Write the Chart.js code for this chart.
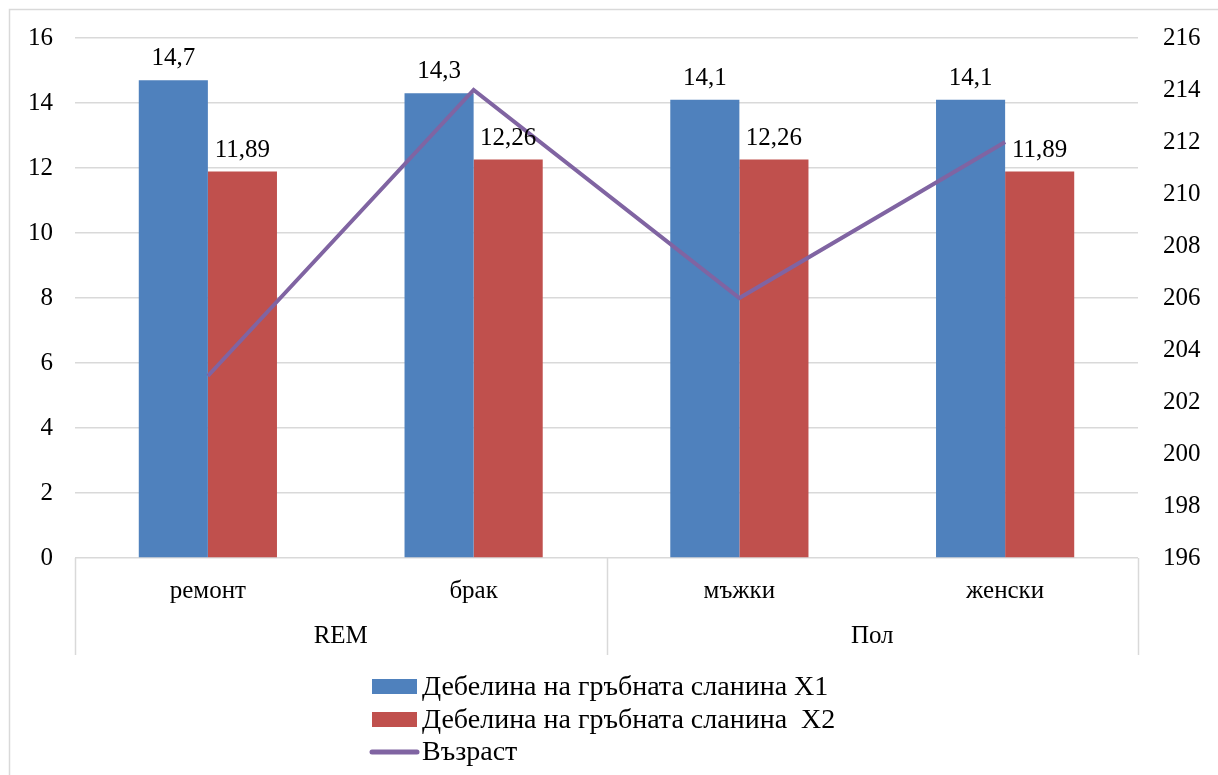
<!DOCTYPE html>
<html>
<head>
<meta charset="utf-8">
<script src="https://cdn.jsdelivr.net/npm/chart.js@4.4.0/dist/chart.umd.min.js"></script>
<style>
    html, body { margin: 0; padding: 0; background: #fff; }
    #wrap { width: 1218px; height: 775px; }
</style>
</head>
<body>
<div id="wrap"><canvas id="chart" width="1218" height="775"></canvas></div>
<script>
const categories = ['ремонт', 'брак', 'мъжки', 'женски'];
const groups = ['REM', 'Пол'];
const groupSizes = [2, 2];
const seriesX1 = [14.7, 14.3, 14.1, 14.1];
const seriesX2 = [11.89, 12.26, 12.26, 11.89];
const ageValues = [203, 214, 206, 212];
const seriesNames = ['Дебелина на гръбната сланина X1', 'Дебелина на гръбната сланина  X2', 'Възраст'];
const colors = ['#4F81BD', '#C0504D', '#8064A2'];

const FONT = '"Liberation Serif", "Times New Roman", serif';
const GRID = '#d9d9d9';
const SIZE = 25;

const fmt = v => String(v).replace('.', ',');

// frame, data labels, group labels, legend
const extras = {
    id: 'extras',
    beforeDraw(chart) {
        const ctx = chart.ctx;
        ctx.save();
        ctx.strokeStyle = GRID;
        ctx.lineWidth = 1.5;
        ctx.strokeRect(9.5, 9.5, 1400, 1000);
        ctx.restore();
    },
    afterDatasetsDraw(chart) {
        const ctx = chart.ctx;
        ctx.save();
        ctx.font = SIZE + 'px ' + FONT;
        ctx.fillStyle = '#000';
        ctx.textAlign = 'center';
        ctx.textBaseline = 'alphabetic';
        [0, 1].forEach(i => {
            const meta = chart.getDatasetMeta(i);
            meta.data.forEach((el, j) => {
                ctx.fillText(fmt(chart.data.datasets[i].data[j]), el.x, el.y - 15);
            });
        });
        ctx.restore();
    },
    afterDraw(chart) {
        const ctx = chart.ctx;
        const x = chart.scales.x;
        const area = chart.chartArea;
        const half = (x.getPixelForValue(1) - x.getPixelForValue(0)) / 2;
        const bottom = area.bottom + 97;

        ctx.save();
        ctx.strokeStyle = GRID;
        ctx.lineWidth = 1.5;
        ctx.font = SIZE + 'px ' + FONT;
        ctx.fillStyle = '#000';
        ctx.textAlign = 'center';
        ctx.textBaseline = 'middle';
        let start = 0;
        const edges = [x.getPixelForValue(0) - half];
        groups.forEach((g, i) => {
            const end = start + groupSizes[i] - 1;
            const left = x.getPixelForValue(start) - half;
            const right = x.getPixelForValue(end) + half;
            edges.push(right);
            ctx.fillText(g, (left + right) / 2, area.bottom + 78);
            start = end + 1;
        });
        edges.forEach(e => {
            ctx.beginPath();
            ctx.moveTo(Math.round(e) + 0.5, area.bottom);
            ctx.lineTo(Math.round(e) + 0.5, bottom);
            ctx.stroke();
        });

        // legend, stacked and left aligned
        const lx = 372, rows = [687, 720, 752];
        ctx.font = '28px ' + FONT;
        ctx.textAlign = 'left';
        chart.data.datasets.forEach((ds, i) => {
            const y = rows[i];
            if (ds.type === 'line') {
                ctx.strokeStyle = ds.borderColor;
                ctx.lineWidth = 5;
                ctx.lineCap = 'round';
                ctx.beginPath();
                ctx.moveTo(lx, y);
                ctx.lineTo(lx + 45, y);
                ctx.stroke();
            } else {
                ctx.fillStyle = ds.backgroundColor;
                ctx.fillRect(lx, y - 8, 45, 15);
            }
            ctx.fillStyle = '#000';
            ctx.fillText(ds.label, lx + 50, y + 1);
        });
        ctx.restore();
    }
};

function fixY(width) {
    return scale => {
        scale.width = width;
        scale.paddingTop = 0;
        scale.paddingBottom = 0;
    };
}

new Chart(document.getElementById('chart'), {
    data: {
        labels: categories,
        datasets: [
            {
                type: 'bar',
                label: seriesNames[0],
                data: seriesX1,
                backgroundColor: colors[0],
                yAxisID: 'y',
                order: 1
            },
            {
                type: 'bar',
                label: seriesNames[1],
                data: seriesX2,
                backgroundColor: colors[1],
                yAxisID: 'y',
                order: 1
            },
            {
                type: 'line',
                label: seriesNames[2],
                data: ageValues,
                borderColor: colors[2],
                backgroundColor: colors[2],
                borderWidth: 4,
                pointRadius: 0,
                tension: 0,
                yAxisID: 'y1',
                order: 0
            }
        ]
    },
    options: {
        responsive: false,
        animation: false,
        layout: { padding: { top: 38, left: 0, right: 0, bottom: 0 } },
        datasets: {
            bar: { categoryPercentage: 0.52, barPercentage: 1 }
        },
        plugins: {
            legend: { display: false },
            tooltip: { enabled: false }
        },
        scales: {
            x: {
                grid: { display: false, drawTicks: false },
                border: { display: false },
                ticks: {
                    color: '#000',
                    font: { family: FONT, size: SIZE },
                    padding: 18,
                    maxRotation: 0
                },
                afterFit(scale) { scale.height = 217; }
            },
            y: {
                position: 'left',
                min: 0,
                max: 16,
                ticks: {
                    stepSize: 2,
                    color: '#000',
                    font: { family: FONT, size: SIZE },
                    padding: 22
                },
                grid: { color: GRID, lineWidth: 1.5, drawTicks: false },
                border: { display: false },
                afterFit: fixY(75)
            },
            y1: {
                position: 'right',
                min: 196,
                max: 216,
                ticks: {
                    stepSize: 2,
                    color: '#000',
                    font: { family: FONT, size: SIZE },
                    padding: 25
                },
                grid: { display: false, drawTicks: false },
                border: { display: false },
                afterFit: fixY(80)
            }
        }
    },
    plugins: [extras]
});
</script>
</body>
</html>
